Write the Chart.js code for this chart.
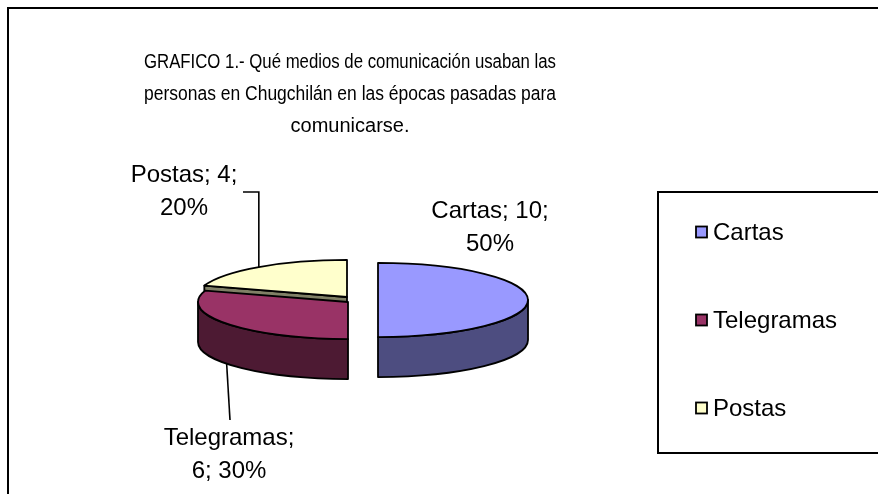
<!DOCTYPE html>
<html>
<head>
<meta charset="utf-8">
<script src="https://cdn.jsdelivr.net/npm/chart.js@4.4.0/dist/chart.umd.min.js"></script>
<style>
  html, body { margin: 0; padding: 0; background: #fff; }
  #contenedor { position: relative; width: 878px; height: 494px; }
</style>
</head>
<body>
<div id="contenedor"><canvas id="grafico"></canvas></div>
<script>
// datos del grafico
const categorias = ['Cartas', 'Telegramas', 'Postas'];
const cantidades = [10, 6, 4];
const tituloLineas = [
  'GRAFICO 1.- Qué medios de comunicación usaban las',
  'personas en Chugchilán en las épocas pasadas para',
  'comunicarse.'
];

const coloresTapa = ['#9999FF', '#993366', '#FFFFCC'];
const coloresLado = ['#4D4D80', '#4D1A33', '#808066'];
const fuente = '"Liberation Sans", Arial, sans-serif';

// tramos del borde curvo que miran al frente (angulos entre 0 y PI)
function tramosFrente(s, e) {
  const tramos = [];
  for (let base = -2 * Math.PI; base <= 2 * Math.PI; base += 2 * Math.PI) {
    const a = Math.max(s, base);
    const b = Math.min(e, base + Math.PI);
    if (b > a) tramos.push([a, b]);
  }
  return tramos;
}

function partirTexto(ctx, texto, ancho) {
  const palabras = texto.split(' ');
  const lineas = [];
  let actual = '';
  palabras.forEach(p => {
    const prueba = actual ? actual + ' ' + p : p;
    if (actual && ctx.measureText(prueba).width > ancho) {
      lineas.push(actual);
      actual = p;
    } else {
      actual = prueba;
    }
  });
  lineas.push(actual);
  return lineas;
}

// saca la geometria de cada porcion a partir de los arcos que calcula Chart.js
function geometria(chart, o) {
  const meta = chart.getDatasetMeta(0);
  return meta.data.map((arc, i) => {
    const p = arc.getProps(['x', 'y', 'startAngle', 'endAngle', 'outerRadius'], true);
    const d = o.desplazamiento[i];
    return {
      arc, i, p,
      cx: p.x + d.dx,
      cy: p.y + d.dy,
      s: p.startAngle,
      e: p.endAngle,
      r: p.outerRadius,
      ry: p.outerRadius * o.achatado,
      medio: (p.startAngle + p.endAngle) / 2
    };
  });
}

const pastel3d = {
  id: 'pastel3d',
  beforeDraw(chart, args, o) {
    const ctx = chart.ctx;
    ctx.save();
    ctx.fillStyle = '#fff';
    ctx.fillRect(0, 0, chart.width, chart.height);
    ctx.strokeStyle = '#000';
    ctx.lineWidth = 2;
    ctx.strokeRect(o.marco.x, o.marco.y, chart.width + 50, chart.height + 50);
    ctx.restore();
  },
  beforeDatasetsDraw(chart, args, o) {
    const ctx = chart.ctx;
    const prof = o.profundidad;
    const rebanadas = geometria(chart, o);
    // de atras hacia adelante
    rebanadas.sort((a, b) => Math.sin(a.medio) - Math.sin(b.medio));

    ctx.save();
    ctx.lineWidth = o.grosorBorde;
    ctx.strokeStyle = '#000';
    ctx.lineJoin = 'round';

    rebanadas.forEach(rb => {
      ctx.fillStyle = o.lados[rb.i];

      // caras de corte que se ven
      [[rb.s, Math.cos(rb.s) < -0.001], [rb.e, Math.cos(rb.e) > 0.001]].forEach(([a, visible]) => {
        if (!visible) return;
        const x = rb.cx + rb.r * Math.cos(a);
        const y = rb.cy + rb.ry * Math.sin(a);
        ctx.beginPath();
        ctx.moveTo(rb.cx, rb.cy);
        ctx.lineTo(x, y);
        ctx.lineTo(x, y + prof);
        ctx.lineTo(rb.cx, rb.cy + prof);
        ctx.closePath();
        ctx.fill();
        ctx.stroke();
      });

      // costado curvo
      tramosFrente(rb.s, rb.e).forEach(([a, b]) => {
        ctx.beginPath();
        ctx.ellipse(rb.cx, rb.cy, rb.r, rb.ry, 0, a, b);
        ctx.lineTo(rb.cx + rb.r * Math.cos(b), rb.cy + rb.ry * Math.sin(b) + prof);
        ctx.ellipse(rb.cx, rb.cy + prof, rb.r, rb.ry, 0, b, a, true);
        ctx.closePath();
        ctx.fill();
        ctx.stroke();
      });

      // la tapa la dibuja el arco de Chart.js, aplastado en vertical
      ctx.save();
      ctx.translate(rb.cx, rb.cy);
      ctx.scale(1, o.achatado);
      ctx.translate(-rb.p.x, -rb.p.y);
      rb.arc.draw(ctx);
      ctx.restore();

      ctx.beginPath();
      ctx.moveTo(rb.cx, rb.cy);
      ctx.ellipse(rb.cx, rb.cy, rb.r, rb.ry, 0, rb.s, rb.e);
      ctx.closePath();
      ctx.stroke();
    });
    ctx.restore();
    return false;
  },
  afterDraw(chart, args, o) {
    const ctx = chart.ctx;
    const datos = chart.data.datasets[0].data;
    const total = datos.reduce((a, b) => a + b, 0);
    const rebanadas = geometria(chart, o);

    ctx.save();
    ctx.font = o.tamLetra + 'px ' + fuente;
    ctx.fillStyle = '#000';
    ctx.strokeStyle = '#000';
    ctx.textAlign = 'center';
    ctx.textBaseline = 'middle';

    // etiquetas con lineas guia
    rebanadas.forEach(rb => {
      const pct = Math.round(datos[rb.i] / total * 100);
      const texto = chart.data.labels[rb.i] + '; ' + datos[rb.i] + '; ' + pct + '%';
      const lineas = partirTexto(ctx, texto, o.anchoEtiqueta);
      const et = o.etiquetas[rb.i];
      const y0 = et.y - (lineas.length - 1) * o.altoLinea / 2;
      lineas.forEach((l, k) => ctx.fillText(l, et.x, y0 + k * o.altoLinea));

      const guia = o.guias[rb.i];
      if (!guia) return;
      const ax = rb.cx + rb.r * Math.cos(rb.medio);
      const ay = rb.cy + rb.ry * Math.sin(rb.medio) + (Math.sin(rb.medio) > 0 ? o.profundidad : 0);
      ctx.lineWidth = 1.6;
      ctx.beginPath();
      ctx.moveTo(guia.x, guia.y);
      if (guia.codo) ctx.lineTo(ax, guia.y);
      ctx.lineTo(ax, ay);
      ctx.stroke();
    });

    // leyenda con recuadro
    const L = o.leyenda;
    ctx.lineWidth = 2;
    ctx.strokeRect(L.x, L.y, chart.width, L.alto);
    ctx.textAlign = 'left';
    chart.data.labels.forEach((nombre, i) => {
      const y = L.primera + i * L.separacion;
      ctx.fillStyle = o.tapas[i];
      ctx.lineWidth = 1.8;
      ctx.fillRect(L.xCuadro, y - L.cuadro / 2, L.cuadro, L.cuadro);
      ctx.strokeRect(L.xCuadro, y - L.cuadro / 2, L.cuadro, L.cuadro);
      ctx.fillStyle = '#000';
      ctx.fillText(nombre, L.xCuadro + L.cuadro + 6, y + 1);
    });
    ctx.restore();
  }
};

document.addEventListener('DOMContentLoaded', () => {
  const ctxGrafico = document.getElementById('grafico');

  new Chart(ctxGrafico, {
    type: 'pie',
    data: {
      labels: categorias,
      datasets: [{
        data: cantidades,
        backgroundColor: coloresTapa,
        borderWidth: 0,
        hoverOffset: 0,
        radius: 150
      }]
    },
    plugins: [pastel3d],
    options: {
      responsive: true,
      maintainAspectRatio: false,
      animation: false,
      events: [],
      // el ancho del area fija el ancho maximo del titulo (texto angosto como el original)
      layout: {
        padding: { left: 144, right: 322, top: 0, bottom: 44 }
      },
      plugins: {
        legend: { display: false },
        tooltip: { enabled: false },
        title: {
          display: true,
          text: tituloLineas,
          fullSize: false,
          color: '#000',
          font: { family: fuente, size: 20, weight: 'normal', lineHeight: '32px' },
          padding: { top: 46, bottom: 8 }
        },
        pastel3d: {
          achatado: 0.247,
          profundidad: 40,
          grosorBorde: 1.8,
          desplazamiento: [{ dx: 28, dy: 0 }, { dx: -2, dy: 2 }, { dx: -3, dy: -3 }],
          lados: coloresLado,
          tapas: coloresTapa,
          marco: { x: 8, y: 8 },
          tamLetra: 24,
          anchoEtiqueta: 146,
          altoLinea: 33,
          etiquetas: [{ x: 490, y: 228 }, { x: 229, y: 455 }, { x: 184, y: 192 }],
          guias: [null, { x: 230, y: 420 }, { x: 243, y: 192, codo: true }],
          leyenda: { x: 658, y: 192, alto: 261, xCuadro: 696, cuadro: 11, primera: 232, separacion: 88 }
        }
      }
    }
  });
});
</script>
</body>
</html>
